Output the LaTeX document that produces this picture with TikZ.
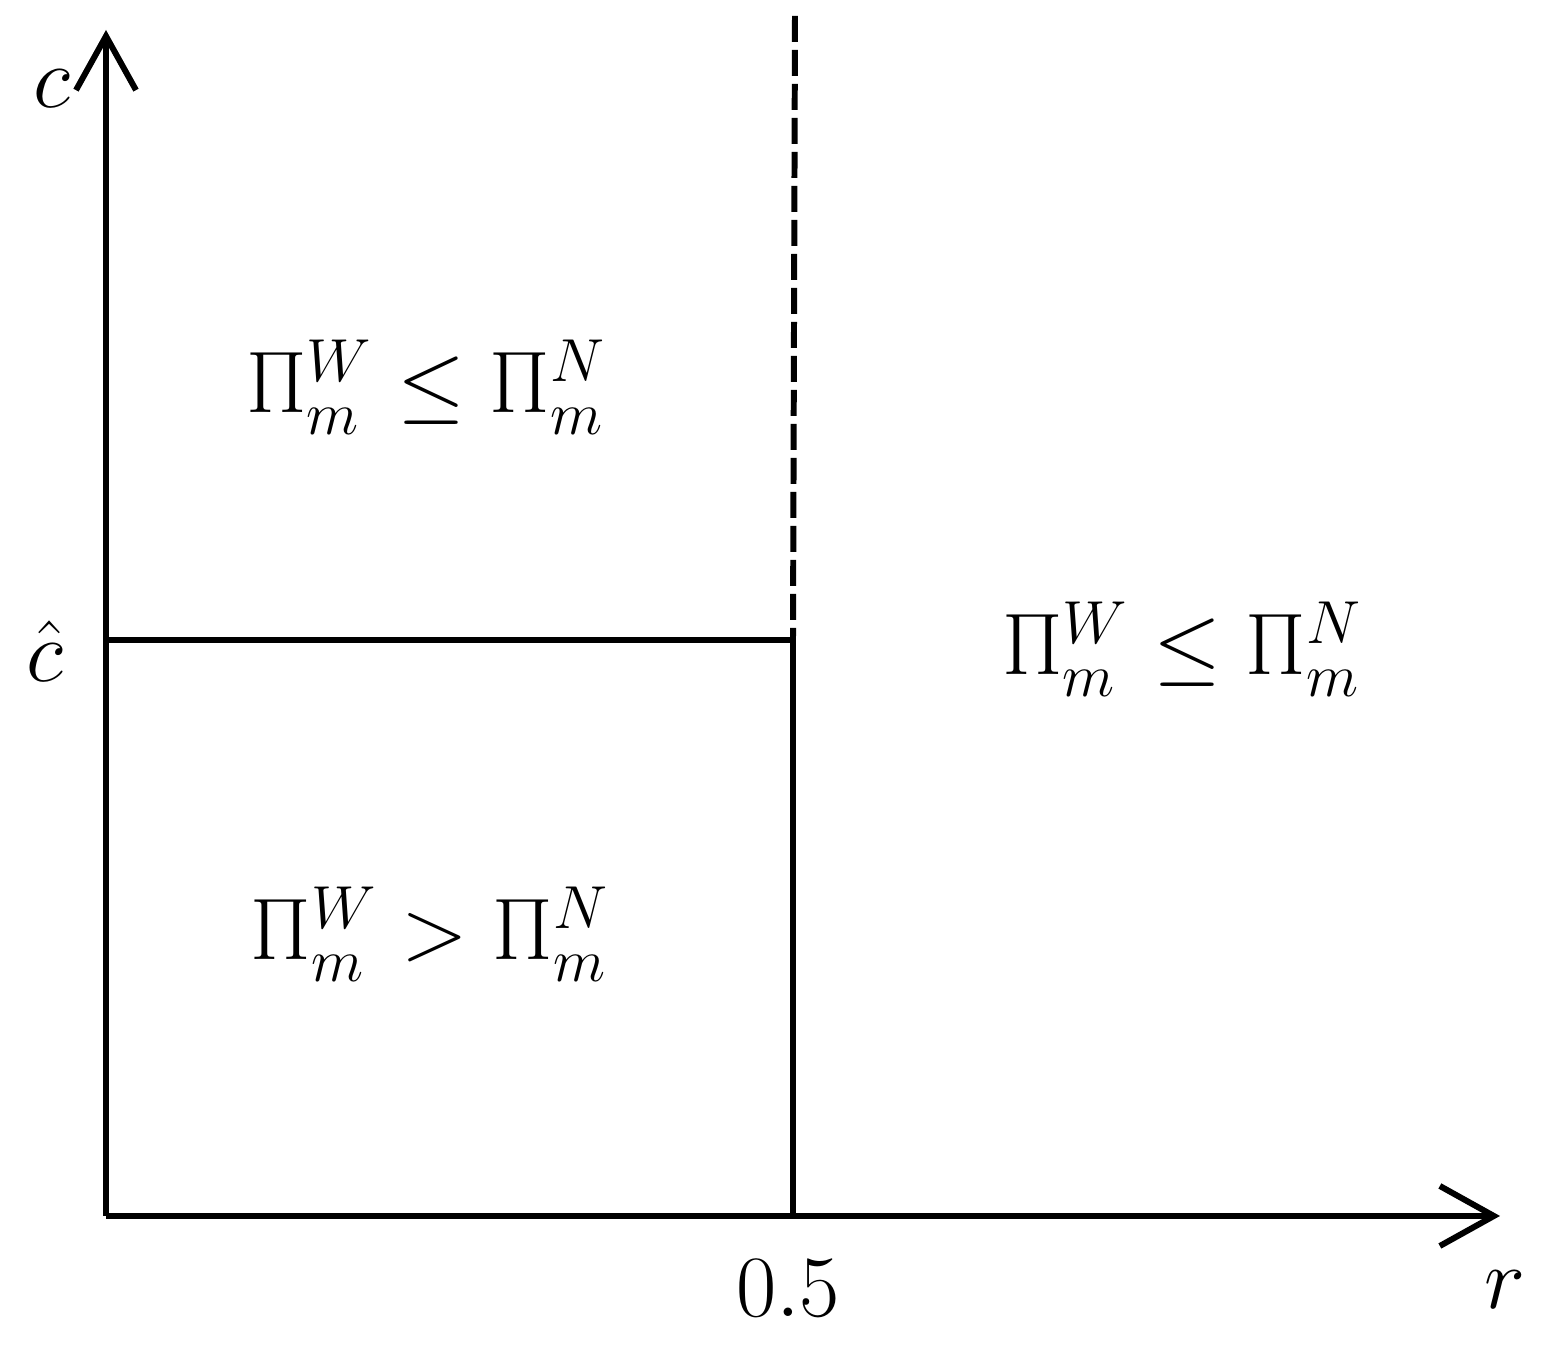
\documentclass[tikz,border=0pt]{standalone}
\usetikzlibrary{arrows.meta}
\begin{document}
\begin{tikzpicture}[
  axis/.style={line width=1.7pt,-{Straight Barb[length=5.4mm,width=6mm,line width=1.7pt]}},
  bound/.style={line width=1.7pt},
  dashbound/.style={line width=1.7pt,dash pattern=on 0.26cm off 0.08cm},
  region/.style={font=\fontsize{23}{27}\selectfont,inner sep=0pt,anchor=base},
  lbl/.style={font=\fontsize{26}{30}\selectfont,inner sep=0pt}
]
\useasboundingbox (0,0) rectangle (15.63,13.46);
\coordinate (O) at (1.06,1.30);
\coordinate (ytip) at (1.06,13.16);
\coordinate (xtip) at (15.00,1.30);
\coordinate (chat) at (1.06,7.06);
\coordinate (corner) at (7.93,7.06);
\coordinate (half) at (7.93,1.30);
\coordinate (dtop) at (7.95,13.30);

\draw[axis] (O) -- (ytip);
\draw[axis] (O) -- (xtip);
\draw[bound] (chat) -- (corner) -- (half);
\draw[dashbound] (dtop) -- (corner);

\node[lbl] (clabel) at (0.52,12.57) {$c$};
\node[lbl] (chatlabel) at (0.45,6.95) {$\hat{c}$};
\node[lbl] (halflabel) at (7.88,0.58) {$0.5$};
\node[lbl] (rlabel) at (15.05,0.56) {$r$};

\node[region] (r1) at (4.26,9.33) {$\Pi_m^W \le \Pi_m^N$};
\node[region] (r2) at (11.82,6.71) {$\Pi_m^W \le \Pi_m^N$};
\node[region] (r3) at (4.30,3.86) {$\Pi_m^W > \Pi_m^N$};
\end{tikzpicture}
\end{document}
